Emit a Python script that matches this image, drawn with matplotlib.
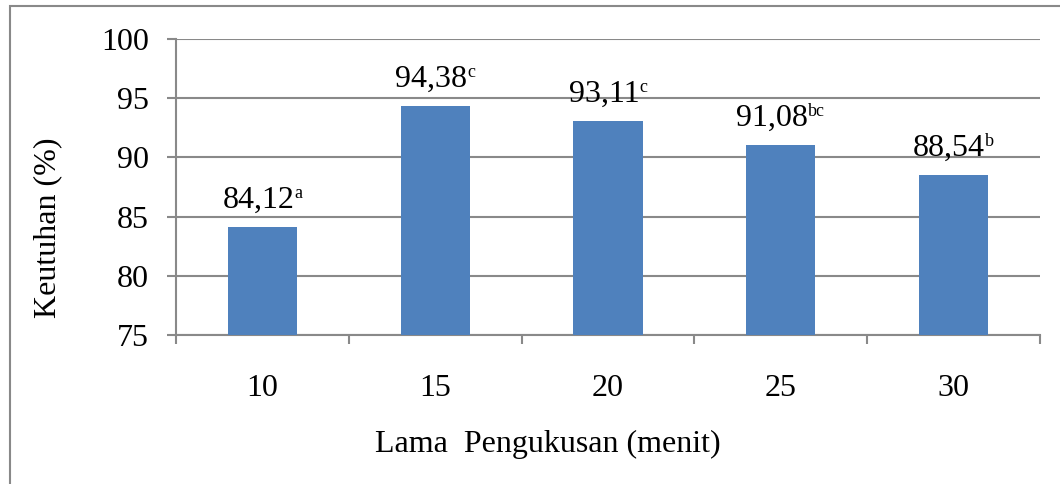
import numpy as np
import matplotlib.pyplot as plt
from matplotlib.patches import Rectangle
from matplotlib.ticker import FixedLocator

plt.rcParams['font.family'] = ['Liberation Serif', 'DejaVu Serif']

# lama pengukusan (menit) vs keutuhan (%)
durations = ['10', '15', '20', '25', '30']
keutuhan = [84.12, 94.38, 93.11, 91.08, 88.54]
notasi = ['a', 'c', 'c', 'bc', 'b']

BAR_COLOR = '#4F81BD'
GRID_COLOR = '#898989'
FS = 23
SUP_FS = 13
DPI = 100
BASE_OFF = 13.7   # label baseline above bar top, points
SUP_RISE = 7.2    # superscript rise, points

fig = plt.figure(figsize=(10.6, 4.84), dpi=DPI)
ax = fig.add_axes([176 / 1060, 1 - 335 / 484, 864 / 1060, 296 / 484])

x = np.arange(len(durations))
ax.bar(x, keutuhan, width=0.4, color=BAR_COLOR, zorder=3)

ax.set_xlim(-0.5, len(durations) - 0.5)
ax.set_ylim(75, 100)
ax.set_yticks(np.arange(75, 101, 5))
ax.yaxis.grid(True, color=GRID_COLOR, linewidth=1.5, zorder=0)
ax.set_axisbelow(True)

ax.set_xticks(x)
ax.set_xticklabels(durations)
ax.xaxis.set_minor_locator(FixedLocator(np.arange(-0.5, len(durations), 1)))
ax.tick_params(axis='x', which='major', length=0, pad=28, labelsize=FS)
ax.tick_params(axis='x', which='minor', length=6.5, width=1.5, color=GRID_COLOR)
ax.tick_params(axis='y', length=6.5, width=1.5, color=GRID_COLOR, pad=13, labelsize=FS)

for side in ['top', 'right']:
    ax.spines[side].set_visible(False)
for side in ['left', 'bottom']:
    ax.spines[side].set_color(GRID_COLOR)
    ax.spines[side].set_linewidth(1.5)

# value labels with the notation letter as a small raised suffix
labels = []
for xi, val, sup in zip(x, keutuhan, notasi):
    num = f'{val:.2f}'.replace('.', ',')
    t_num = ax.annotate(num, (xi, val), xytext=(0, BASE_OFF), textcoords='offset points',
                        ha='left', va='baseline', fontsize=FS)
    t_sup = ax.annotate(sup, (xi, val), xytext=(0, BASE_OFF + SUP_RISE),
                        textcoords='offset points', ha='left', va='baseline', fontsize=SUP_FS)
    labels.append((t_num, t_sup))

fig.canvas.draw()
for t_num, t_sup in labels:
    w_num = t_num.get_window_extent().width * 72 / DPI
    w_sup = t_sup.get_window_extent().width * 72 / DPI
    start = -(w_num + w_sup) / 2
    t_num.xyann = (start, BASE_OFF)
    t_sup.xyann = (start + w_num, BASE_OFF + SUP_RISE)

fig.text(48 / 1060, 1 - 228 / 484, 'Keutuhan (%)', rotation=90,
         ha='center', va='center', fontsize=FS)
fig.text(548 / 1060, 1 - 444 / 484, 'Lama  Pengukusan (menit)',
         ha='center', va='center', fontsize=FS)

# outer frame of the chart area
fig.patches.append(Rectangle((10 / 1060, -0.2), 1.2, 1.2 - 6 / 484,
                             transform=fig.transFigure, fill=False,
                             edgecolor=GRID_COLOR, linewidth=1.5))

fig.savefig('out.png', dpi=DPI)
